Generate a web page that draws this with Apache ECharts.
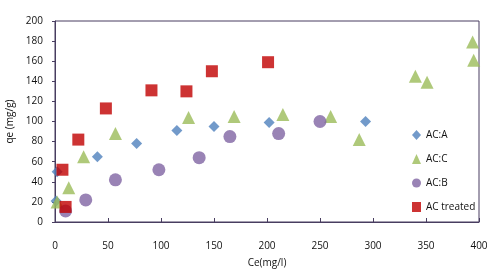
<!DOCTYPE html>
<html>
<head>
<meta charset="utf-8">
<script src="https://cdn.jsdelivr.net/npm/echarts@6/dist/echarts.min.js"></script>
<style>
  html, body { margin: 0; padding: 0; background: #fff; }
  #chart { width: 500px; height: 273px; }
</style>
</head>
<body>
<div id="chart"></div>
<script>
// data: [Ce, qe]
const acA = [[1, 21], [2, 50], [40, 65], [77, 78], [115, 91], [150, 95], [202, 99], [293, 100]];
const acC = [[2, 20], [13, 34], [27, 65], [57, 88], [126, 104], [169, 105], [215, 107], [260, 105],
  [287, 82], [340, 145], [351, 139], [394, 179], [395, 161]];
const acB = [[10, 11], [29, 22], [57, 42], [98, 52], [136, 64], [165, 85], [211, 88], [250, 100]];
const acTreated = [[7, 52], [10, 15], [22, 82], [48, 113], [91, 131], [124, 130], [148, 150], [201, 159]];

const axisColor = '#483d60';
const font = 'Open Sans';

const chart = echarts.init(document.getElementById('chart'));
chart.setOption({
  animation: false,
  grid: {
    left: 55, right: 21, top: 21, bottom: 51,
    outerBoundsMode: 'none', containLabel: false,
    show: true, borderColor: axisColor, borderWidth: 1
  },
  xAxis: {
    type: 'value', min: 0, max: 400, interval: 50,
    name: 'Ce(mg/l)', nameLocation: 'middle', nameGap: 36,
    nameTextStyle: { color: '#111', fontFamily: font, fontSize: 10 },
    axisLine: { lineStyle: { color: axisColor } },
    axisTick: { show: true, inside: true, length: 4, lineStyle: { color: axisColor } },
    axisLabel: { color: '#111', fontFamily: font, fontSize: 10, margin: 19 },
    splitLine: { show: false }
  },
  yAxis: {
    type: 'value', min: 0, max: 200, interval: 20,
    name: 'qe (mg/g)', nameLocation: 'middle', nameGap: 38, nameRotate: 90,
    nameTextStyle: { color: '#111', fontFamily: font, fontSize: 10 },
    axisLine: { show: true, lineStyle: { color: axisColor } },
    axisTick: { show: true, inside: false, length: 3, lineStyle: { color: axisColor } },
    axisLabel: { color: '#111', fontFamily: font, fontSize: 10, margin: 12 },
    splitLine: { show: false }
  },
  legend: {
    orient: 'vertical', left: 407, top: 125, itemGap: 14,
    itemWidth: 9, itemHeight: 10,
    textStyle: { color: '#111', fontFamily: font, fontSize: 10 },
    data: [
      { name: 'AC:A', icon: 'diamond' },
      { name: 'AC:C', icon: 'triangle' },
      { name: 'AC:B', icon: 'circle' },
      { name: 'AC treated', icon: 'rect' }
    ]
  },
  series: [
    { name: 'AC:A', type: 'scatter', symbol: 'diamond', symbolSize: 11, data: acA,
      itemStyle: { color: '#4f81bd' } },
    { name: 'AC:C', type: 'scatter', symbol: 'triangle', symbolSize: 13, data: acC,
      itemStyle: { color: '#9bbb59' } },
    { name: 'AC:B', type: 'scatter', symbol: 'circle', symbolSize: 13, data: acB,
      itemStyle: { color: '#8064a2' } },
    { name: 'AC treated', type: 'scatter', symbol: 'rect', symbolSize: 12, data: acTreated,
      itemStyle: { color: '#c00000' } }
  ]
});
</script>
</body>
</html>
